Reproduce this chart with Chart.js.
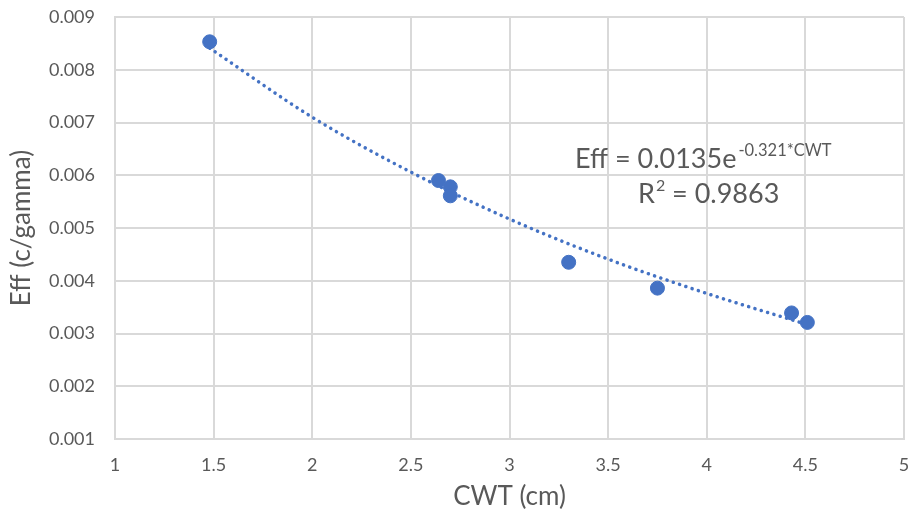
<!DOCTYPE html>
<html>
<head>
<meta charset="utf-8">
<script src="https://cdn.jsdelivr.net/npm/chart.js@4"></script>
<style>
  html, body { margin: 0; padding: 0; background: #fff; }
  #wrap { width: 912px; height: 516px; }
</style>
</head>
<body>
<div id="wrap"><canvas id="effChart" width="912" height="516"></canvas></div>
<script>
// measured points
const cwt = [1.48, 2.64, 2.70, 2.70, 3.30, 3.75, 4.43, 4.51];
const eff = [0.00853, 0.00590, 0.00578, 0.00561, 0.00435, 0.00386, 0.00339, 0.00321];

// dotted trendline
const trendX = [1.48, 2.0, 2.5, 3.0, 3.5, 4.0, 4.5];
const trendY = [0.00841, 0.00710, 0.00606, 0.00517, 0.00441, 0.00376, 0.00318];

const xTicks = [1, 1.5, 2, 2.5, 3, 3.5, 4, 4.5, 5];
const yTicks = [0.001, 0.002, 0.003, 0.004, 0.005, 0.006, 0.007, 0.008, 0.009];

const FONT = "Lato, 'Open Sans', sans-serif";
const BLUE = "#4472C4";
const GRID = "#d9d9d9";
const TXT = "#595959";

// equation label drawn on the canvas
const equationLabel = {
  id: "equationLabel",
  afterDraw(chart) {
    const c = chart.ctx;
    c.save();
    c.fillStyle = TXT;
    c.textBaseline = "alphabetic";
    c.textAlign = "left";
    c.font = "27px " + FONT;
    let x = 575, y = 168;
    const main = "Eff = 0.0135e";
    c.fillText(main, x, y);
    x += c.measureText(main).width;
    c.font = "16.5px " + FONT;
    c.fillText("-0.321*CWT", x + 2, y - 12);

    c.font = "27px " + FONT;
    x = 638; y = 203;
    c.fillText("R", x, y);
    x += c.measureText("R").width;
    c.font = "16px " + FONT;
    c.fillText("2", x + 1, y - 12);
    x += c.measureText("2").width + 1;
    c.font = "27px " + FONT;
    c.fillText(" = 0.9863", x, y);
    c.restore();
  }
};

new Chart(document.getElementById("effChart").getContext("2d"), {
  type: "scatter",
  data: {
    datasets: [
      {
        label: "trend",
        type: "line",
        data: trendX.map((x, i) => ({ x: x, y: trendY[i] })),
        borderColor: BLUE,
        borderWidth: 3.5,
        borderDash: [0.1, 6.5],
        borderCapStyle: "round",
        pointRadius: 0,
        fill: false,
        cubicInterpolationMode: "monotone",
        order: 2
      },
      {
        label: "Eff",
        data: cwt.map((x, i) => ({ x: x, y: eff[i] })),
        backgroundColor: BLUE,
        borderColor: BLUE,
        pointRadius: 7,
        pointHoverRadius: 7,
        order: 1
      }
    ]
  },
  options: {
    responsive: false,
    animation: false,
    events: [],
    layout: { padding: { top: 17, right: 8, left: 0, bottom: 0 } },
    plugins: {
      legend: { display: false },
      tooltip: { enabled: false }
    },
    scales: {
      x: {
        type: "linear",
        min: 1,
        max: 5,
        afterBuildTicks: s => { s.ticks = xTicks.map(v => ({ value: v })); },
        ticks: {
          color: TXT,
          font: { family: FONT, size: 18 },
          padding: 15,
          maxRotation: 0,
          callback: v => String(v)
        },
        grid: { color: GRID, lineWidth: 2, drawTicks: false },
        border: { color: GRID, width: 2 },
        title: {
          display: true,
          text: "CWT (cm)",
          color: TXT,
          font: { family: FONT, size: 26 },
          padding: { top: 4, bottom: 4 }
        },
        afterFit: s => {
          s.height = 77;
          s.paddingLeft = 0;
          s.paddingRight = 0;
        }
      },
      y: {
        type: "linear",
        min: 0.001,
        max: 0.009,
        afterBuildTicks: s => { s.ticks = yTicks.map(v => ({ value: v })); },
        ticks: {
          color: TXT,
          font: { family: FONT, size: 18 },
          padding: 20,
          callback: v => v.toFixed(3)
        },
        grid: { color: GRID, lineWidth: 2, drawTicks: false },
        border: { color: GRID, width: 2 },
        title: {
          display: true,
          text: "Eff (c/gamma)",
          color: TXT,
          font: { family: FONT, size: 26 },
          padding: { top: 6, bottom: 4 }
        },
        afterFit: s => {
          s.width = 115;
          s.paddingTop = 0;
          s.paddingBottom = 0;
        }
      }
    }
  },
  plugins: [equationLabel]
});
</script>
</body>
</html>
